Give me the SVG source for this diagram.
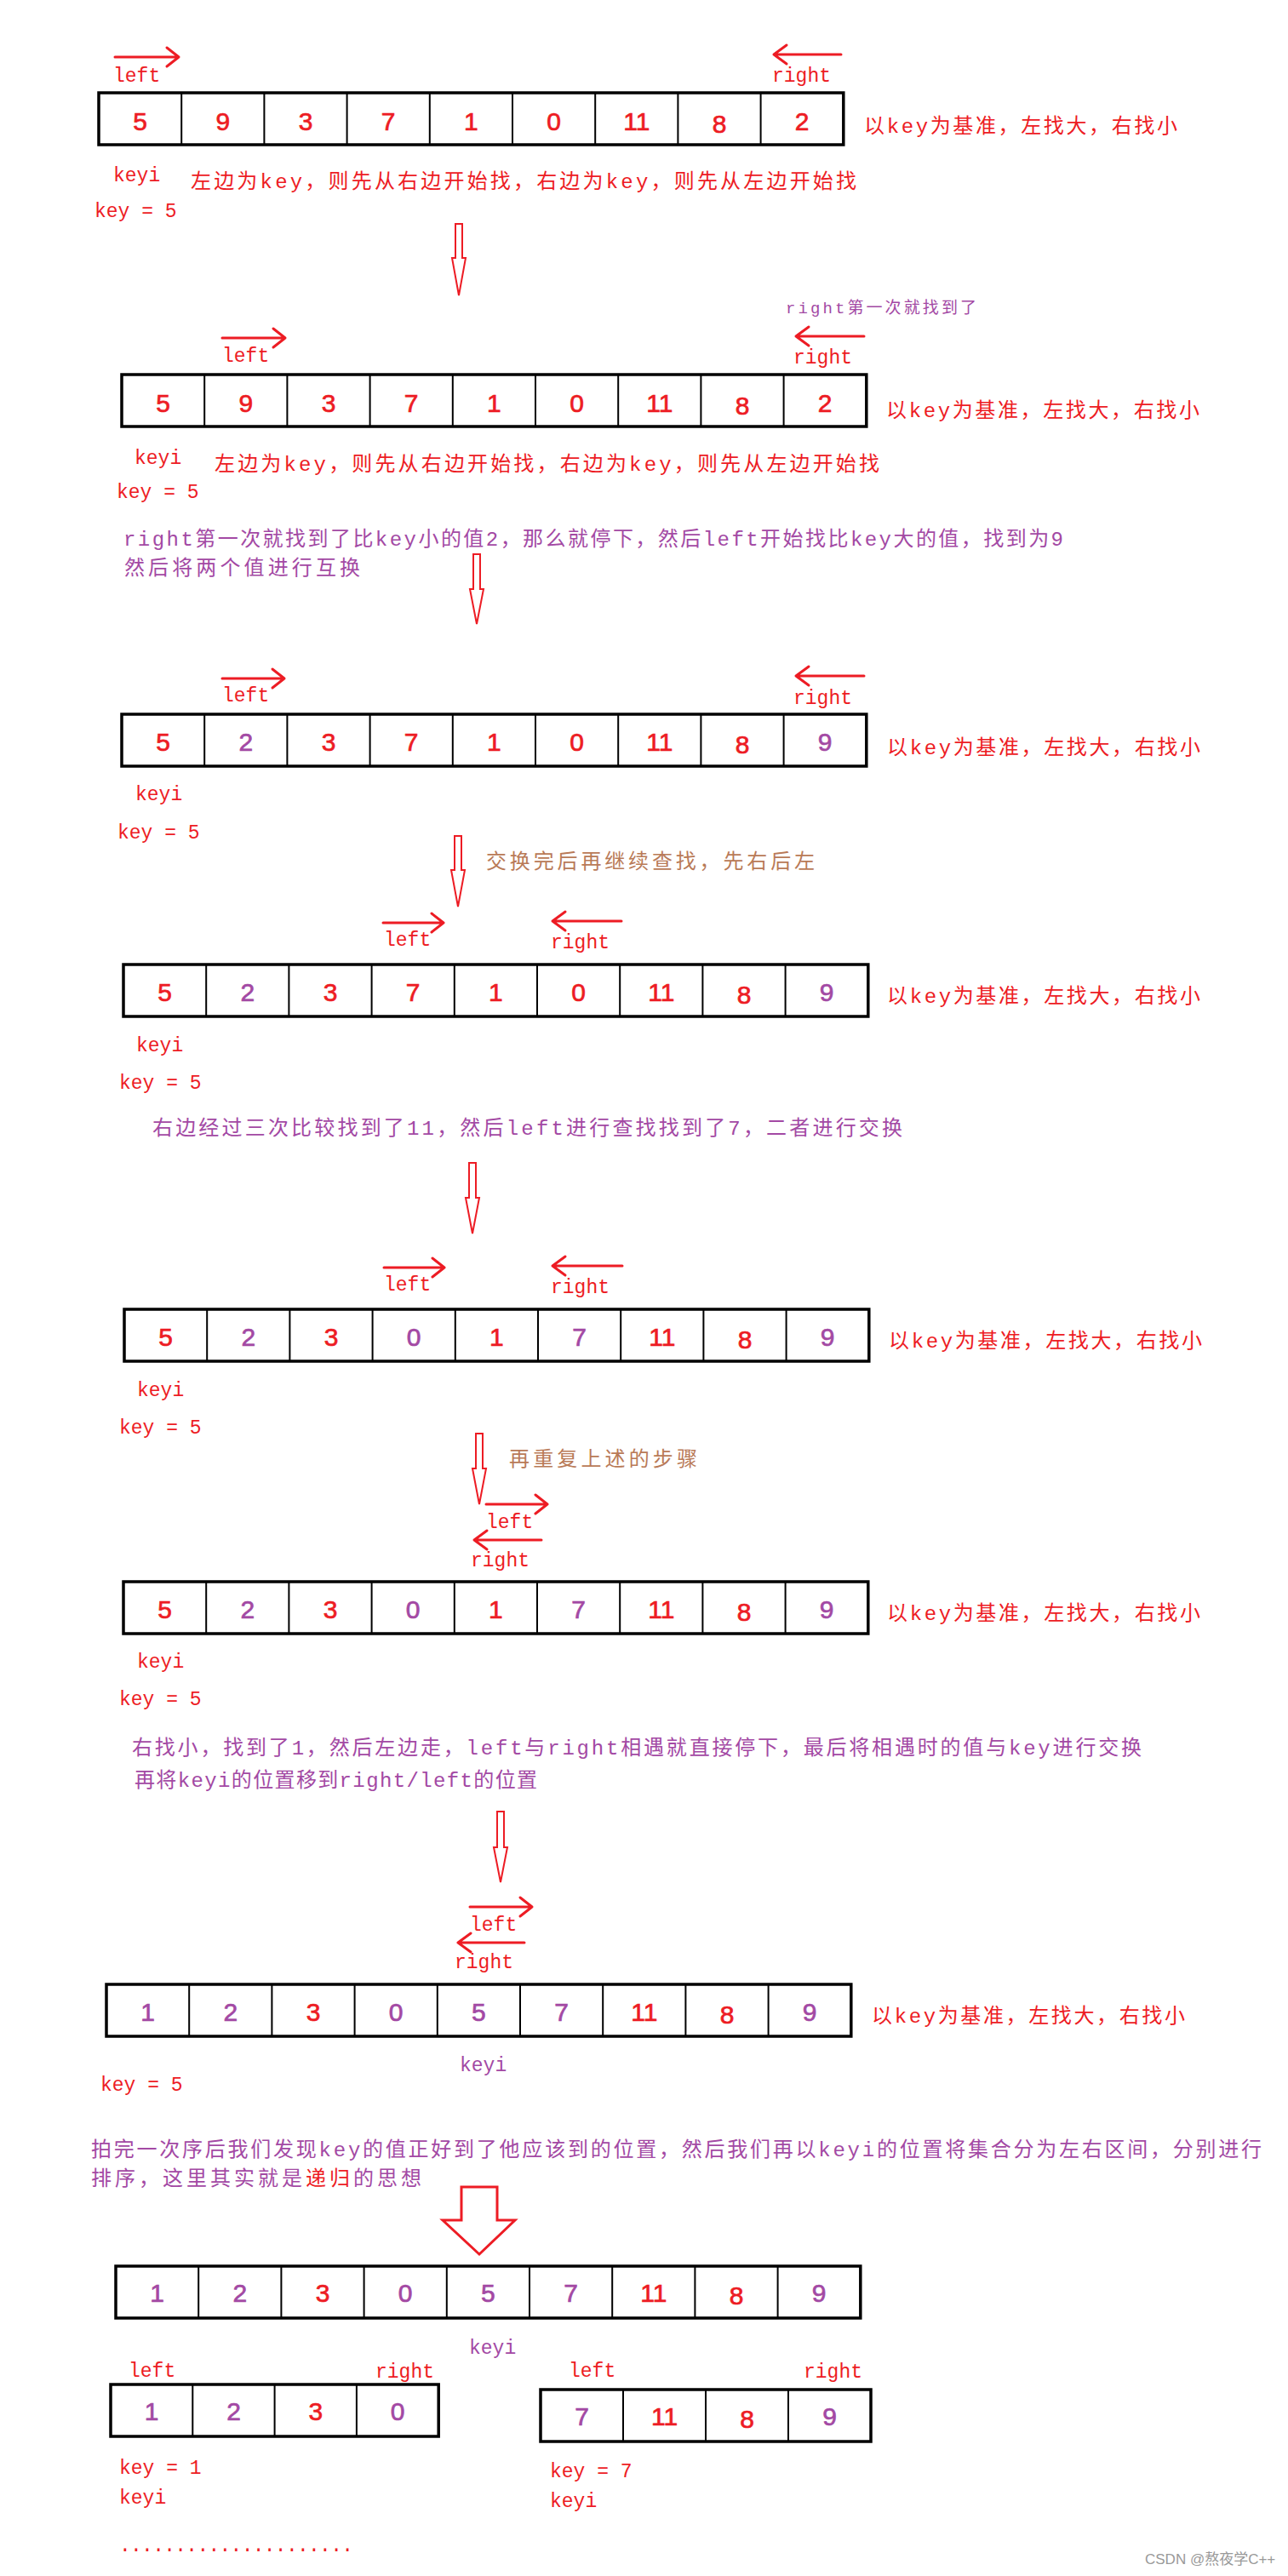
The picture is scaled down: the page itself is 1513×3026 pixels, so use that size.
<svg xmlns="http://www.w3.org/2000/svg" xmlns:xlink="http://www.w3.org/1999/xlink" width="1513" height="3026" viewBox="0 0 1513 3026">
<style>
.bg{fill:#fff}
.box{fill:#fff;stroke:#000;stroke-width:3.5}
.dv{stroke:#000;stroke-width:2}
.n{font-family:"Liberation Sans",Arial,sans-serif;font-size:30px;text-anchor:middle;stroke-width:0.7}
.r{fill:#ED1C24}
.p{fill:#A349A4}
.n.r{stroke:#ED1C24}
.n.p{stroke:#A349A4}
.b{fill:#B97A57}
.lab{font-family:"Liberation Mono","Noto Sans CJK SC",monospace;font-size:23px}
.cjk{font-family:"Liberation Mono","Noto Sans CJK SC",monospace;font-size:24px}
.sm{font-family:"Liberation Mono","Noto Sans CJK SC",monospace;font-size:19px}
.ha{fill:none;stroke:#ED1C24;stroke-width:3;stroke-linecap:round;stroke-linejoin:round}
.da{fill:#fff;stroke:#ED1C24;stroke-width:2}
.big{fill:#fff;stroke:#ED1C24;stroke-width:3}
.wm{font-family:"Liberation Sans","Noto Sans CJK SC",sans-serif;font-size:17px;fill:#999}
</style>
<defs>
<g id="grid9">
<rect class="box" x="0" y="0" width="874.8" height="61"/>
<path class="dv" d="M97.2 0V61M194.4 0V61M291.6 0V61M388.8 0V61M486 0V61M583.2 0V61M680.4 0V61M777.6 0V61"/>
</g>
</defs>
<rect class="bg" x="0" y="0" width="1513" height="3026"/>

<!-- Step 1 -->
<g id="step1">
<g id="arr1" transform="translate(116,109)">
<use xlink:href="#grid9"/>
<text class="n r" x="48.6" y="44">5</text><text class="n r" x="145.8" y="44">9</text><text class="n r" x="243" y="44">3</text><text class="n r" x="340.2" y="44">7</text><text class="n r" x="437.4" y="44">1</text><text class="n r" x="534.6" y="44">0</text><text class="n r" x="631.8" y="44">11</text><text class="n r" x="729" y="47">8</text><text class="n r" x="826.2" y="44">2</text>
</g>
<path class="ha" d="M135 67H210M196 56L210 67L196 78"/>
<text class="lab r" x="133" y="96">left</text>
<path class="ha" d="M988 64H909M924 53L909 64L924 75"/>
<text class="lab r" x="907" y="96">right</text>
<text class="cjk r" x="1015" y="156" textLength="368">以key为基准，左找大，右找小</text>
<text class="lab r" x="133" y="213">keyi</text>
<text class="cjk r" x="224" y="221" textLength="782">左边为key，则先从右边开始找，右边为key，则先从左边开始找</text>
<text class="lab r" x="111" y="255">key = 5</text>
</g>

<!-- Step 2 -->
<g id="step2">
<text class="sm p" x="923" y="368" textLength="224">right第一次就找到了</text>
<path class="ha" d="M261 397H335M321 386L335 397L321 408"/>
<text class="lab r" x="261" y="425">left</text>
<path class="ha" d="M1015 395H935M950 384L935 395L950 406"/>
<text class="lab r" x="932" y="427">right</text>
<g id="arr2" transform="translate(143,440)">
<use xlink:href="#grid9"/>
<text class="n r" x="48.6" y="44">5</text><text class="n r" x="145.8" y="44">9</text><text class="n r" x="243" y="44">3</text><text class="n r" x="340.2" y="44">7</text><text class="n r" x="437.4" y="44">1</text><text class="n r" x="534.6" y="44">0</text><text class="n r" x="631.8" y="44">11</text><text class="n r" x="729" y="47">8</text><text class="n r" x="826.2" y="44">2</text>
</g>
<text class="cjk r" x="1041" y="490" textLength="368">以key为基准，左找大，右找小</text>
<text class="lab r" x="158" y="545">keyi</text>
<text class="cjk r" x="252" y="553" textLength="781">左边为key，则先从右边开始找，右边为key，则先从左边开始找</text>
<text class="lab r" x="137" y="585">key = 5</text>
<text class="cjk p" x="145" y="641" textLength="1104">right第一次就找到了比key小的值2，那么就停下，然后left开始找比key大的值，找到为9</text>
<text class="cjk p" x="146" y="675" textLength="277">然后将两个值进行互换</text>
</g>

<!-- Step 3 -->
<g id="step3">
<path class="ha" d="M261 797H334M320 786L334 797L320 808"/>
<text class="lab r" x="261" y="824">left</text>
<path class="ha" d="M1015 794H935M950 783L935 794L950 805"/>
<text class="lab r" x="932" y="827">right</text>
<g id="arr3" transform="translate(143,839)">
<use xlink:href="#grid9"/>
<text class="n r" x="48.6" y="43">5</text><text class="n p" x="145.8" y="43">2</text><text class="n r" x="243" y="43">3</text><text class="n r" x="340.2" y="43">7</text><text class="n r" x="437.4" y="43">1</text><text class="n r" x="534.6" y="43">0</text><text class="n r" x="631.8" y="43">11</text><text class="n r" x="729" y="46">8</text><text class="n p" x="826.2" y="43">9</text>
</g>
<text class="cjk r" x="1042" y="886" textLength="368">以key为基准，左找大，右找小</text>
<text class="lab r" x="159" y="940">keyi</text>
<text class="lab r" x="138" y="985">key = 5</text>
<text class="cjk b" x="571" y="1020" textLength="386">交换完后再继续查找，先右后左</text>
</g>

<!-- Step 4 -->
<g id="step4">
<path class="ha" d="M450 1084H521M507 1073L521 1084L507 1095"/>
<text class="lab r" x="451" y="1111">left</text>
<path class="ha" d="M730 1082H649M664 1071L649 1082L664 1093"/>
<text class="lab r" x="647" y="1114">right</text>
<g id="arr4" transform="translate(145,1133)">
<use xlink:href="#grid9"/>
<text class="n r" x="48.6" y="43">5</text><text class="n p" x="145.8" y="43">2</text><text class="n r" x="243" y="43">3</text><text class="n r" x="340.2" y="43">7</text><text class="n r" x="437.4" y="43">1</text><text class="n r" x="534.6" y="43">0</text><text class="n r" x="631.8" y="43">11</text><text class="n r" x="729" y="46">8</text><text class="n p" x="826.2" y="43">9</text>
</g>
<text class="cjk r" x="1042" y="1178" textLength="368">以key为基准，左找大，右找小</text>
<text class="lab r" x="160" y="1235">keyi</text>
<text class="lab r" x="140" y="1279">key = 5</text>
<text class="cjk p" x="179" y="1333" textLength="881">右边经过三次比较找到了11，然后left进行查找找到了7，二者进行交换</text>
</g>

<!-- Step 5 -->
<g id="step5">
<path class="ha" d="M451 1489H522M508 1478L522 1489L508 1500"/>
<text class="lab r" x="451" y="1516">left</text>
<path class="ha" d="M731 1487H649M664 1476L649 1487L664 1498"/>
<text class="lab r" x="647" y="1519">right</text>
<g id="arr5" transform="translate(146,1538)">
<use xlink:href="#grid9"/>
<text class="n r" x="48.6" y="43">5</text><text class="n p" x="145.8" y="43">2</text><text class="n r" x="243" y="43">3</text><text class="n p" x="340.2" y="43">0</text><text class="n r" x="437.4" y="43">1</text><text class="n p" x="534.6" y="43">7</text><text class="n r" x="631.8" y="43">11</text><text class="n r" x="729" y="46">8</text><text class="n p" x="826.2" y="43">9</text>
</g>
<text class="cjk r" x="1044" y="1583" textLength="368">以key为基准，左找大，右找小</text>
<text class="lab r" x="161" y="1640">keyi</text>
<text class="lab r" x="140" y="1684">key = 5</text>
<text class="cjk b" x="598" y="1722" textLength="221">再重复上述的步骤</text>
</g>

<!-- Step 6 -->
<g id="step6">
<path class="ha" d="M571 1767H643M629 1756L643 1767L629 1778"/>
<text class="lab r" x="571" y="1795">left</text>
<path class="ha" d="M636 1809H557M572 1798L557 1809L572 1820"/>
<text class="lab r" x="553" y="1840">right</text>
<g id="arr6" transform="translate(145,1858)">
<use xlink:href="#grid9"/>
<text class="n r" x="48.6" y="43">5</text><text class="n p" x="145.8" y="43">2</text><text class="n r" x="243" y="43">3</text><text class="n p" x="340.2" y="43">0</text><text class="n r" x="437.4" y="43">1</text><text class="n p" x="534.6" y="43">7</text><text class="n r" x="631.8" y="43">11</text><text class="n r" x="729" y="46">8</text><text class="n p" x="826.2" y="43">9</text>
</g>
<text class="cjk r" x="1042" y="1903" textLength="368">以key为基准，左找大，右找小</text>
<text class="lab r" x="161" y="1959">keyi</text>
<text class="lab r" x="140" y="2003">key = 5</text>
<text class="cjk p" x="155" y="2061" textLength="1186">右找小，找到了1，然后左边走，left与right相遇就直接停下，最后将相遇时的值与key进行交换</text>
<text class="cjk p" x="158" y="2099" textLength="473">再将keyi的位置移到right/left的位置</text>
</g>

<!-- Step 7 -->
<g id="step7">
<path class="ha" d="M552 2240H625M611 2229L625 2240L611 2251"/>
<text class="lab r" x="552" y="2268">left</text>
<path class="ha" d="M616 2282H538M553 2271L538 2282L553 2293"/>
<text class="lab r" x="534" y="2312">right</text>
<g id="arr7" transform="translate(125,2331)">
<use xlink:href="#grid9"/>
<text class="n p" x="48.6" y="43">1</text><text class="n p" x="145.8" y="43">2</text><text class="n r" x="243" y="43">3</text><text class="n p" x="340.2" y="43">0</text><text class="n p" x="437.4" y="43">5</text><text class="n p" x="534.6" y="43">7</text><text class="n r" x="631.8" y="43">11</text><text class="n r" x="729" y="46">8</text><text class="n p" x="826.2" y="43">9</text>
</g>
<text class="cjk r" x="1024" y="2376" textLength="368">以key为基准，左找大，右找小</text>
<text class="lab p" x="540" y="2433">keyi</text>
<text class="lab r" x="118" y="2456">key = 5</text>
<text class="cjk p" x="107" y="2533" textLength="1375">拍完一次序后我们发现key的值正好到了他应该到的位置，然后我们再以keyi的位置将集合分为左右区间，分别进行</text>
<text class="cjk p" x="107" y="2567" textLength="388">排序，这里其实就是<tspan class="r">递归</tspan>的思想</text>
</g>

<!-- Step 8 -->
<g id="step8">
<g id="arr8" transform="translate(136,2662)">
<use xlink:href="#grid9"/>
<text class="n p" x="48.6" y="42">1</text><text class="n p" x="145.8" y="42">2</text><text class="n r" x="243" y="42">3</text><text class="n p" x="340.2" y="42">0</text><text class="n p" x="437.4" y="42">5</text><text class="n p" x="534.6" y="42">7</text><text class="n r" x="631.8" y="42">11</text><text class="n r" x="729" y="45">8</text><text class="n p" x="826.2" y="42">9</text>
</g>
<text class="lab p" x="551" y="2765">keyi</text>
</g>

<g id="subLeft">
<text class="lab r" x="151" y="2792">left</text>
<text class="lab r" x="441" y="2793">right</text>
<g transform="translate(130,2801)">
<rect class="box" x="0" y="0" width="385.2" height="61"/>
<path class="dv" d="M96.3 0V61M192.6 0V61M288.9 0V61"/>
<text class="n p" x="48.2" y="42">1</text><text class="n p" x="144.5" y="42">2</text><text class="n r" x="240.8" y="42">3</text><text class="n p" x="337.1" y="42">0</text>
</g>
<text class="lab r" x="140" y="2906">key = 1</text>
<text class="lab r" x="140" y="2941">keyi</text>
<text class="lab r" x="140" y="2997" textLength="275">.....................</text>
</g>

<g id="subRight">
<text class="lab r" x="668" y="2792">left</text>
<text class="lab r" x="944" y="2793">right</text>
<g transform="translate(635,2807)">
<rect class="box" x="0" y="0" width="388" height="61"/>
<path class="dv" d="M97 0V61M194 0V61M291 0V61"/>
<text class="n p" x="48.5" y="42">7</text><text class="n r" x="145.5" y="42">11</text><text class="n r" x="242.5" y="45">8</text><text class="n p" x="339.5" y="42">9</text>
</g>
<text class="lab r" x="646" y="2910">key = 7</text>
<text class="lab r" x="646" y="2945">keyi</text>
</g>

<g id="connectors">
<path class="da" d="M535 263V303H531L539 347L547 303H543V263Z"/>
<path class="da" d="M556 651V692H552L560 733L568 692H564V651Z"/>
<path class="da" d="M534 982V1022H530L538 1065L546 1022H542V982Z"/>
<path class="da" d="M551 1366V1407H547L555 1449L563 1407H559V1366Z"/>
<path class="da" d="M559 1684V1725H555L563 1767L571 1725H567V1684Z"/>
<path class="da" d="M584 2128V2170H580L588 2211L596 2170H592V2128Z"/>
<path class="big" d="M542 2569V2608H520L563 2648L605 2608H584V2569Z"/>
</g>

<text class="wm" x="1345" y="3012">CSDN @熬夜学C++</text>
</svg>
